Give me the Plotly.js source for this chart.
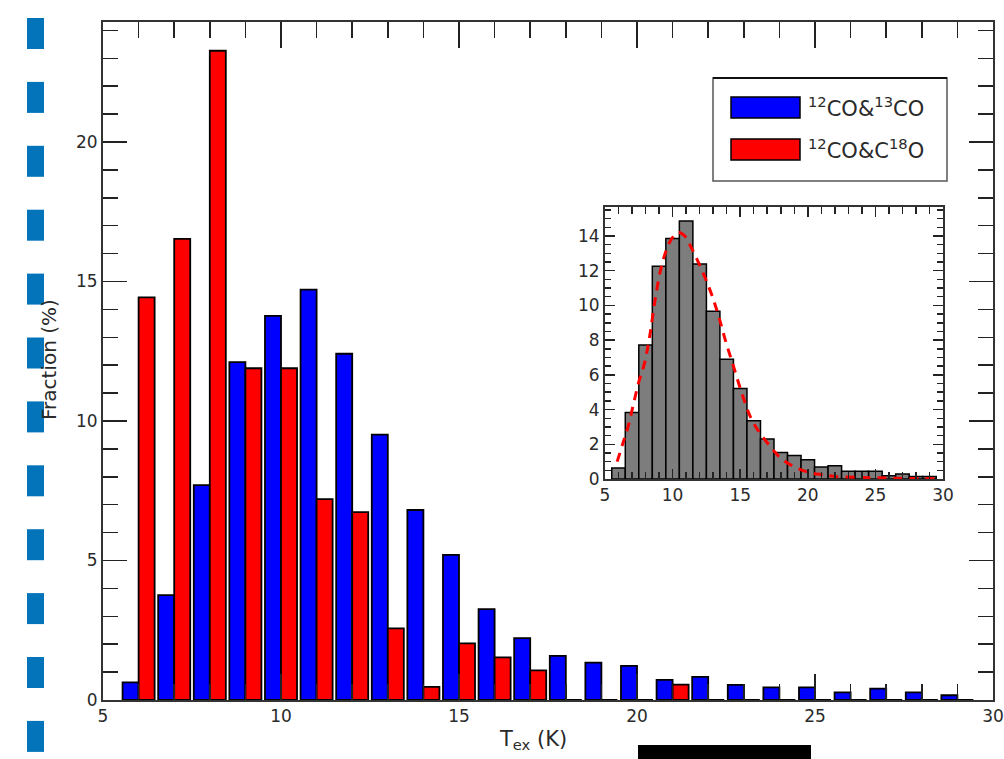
<!DOCTYPE html>
<html>
<head>
<meta charset="utf-8">
<script src="https://cdn.plot.ly/plotly-3.0.1.min.js"></script>
<style>html,body{margin:0;padding:0;background:#fff;}#chart{width:1004px;height:759px;}</style>
</head>
<body>
<div id="chart"></div>
<script>
// Bin centres (K)
const binCenters = [6,7,8,9,10,11,12,13,14,15,16,17,18,19,20,21,22,23,24,25,26,27,28,29];
// 12CO & 13CO fraction (%)
const fracCO13 = [0.63,3.76,7.70,12.11,13.77,14.71,12.41,9.51,6.81,5.20,3.26,2.22,1.58,1.34,1.22,0.72,0.83,0.54,0.45,0.45,0.27,0.41,0.27,0.17];
// 12CO & C18O fraction (%)
const fracC18O = [14.43,16.53,23.27,11.89,11.89,7.20,6.73,2.57,0.47,2.03,1.53,1.06,0,0,0,0.55,0,0,0,0,0,0,0,0];
// Inset histogram (%)
const insetFrac = [0.63,3.83,7.72,12.26,13.85,14.87,12.38,9.67,6.90,5.21,3.35,2.30,1.53,1.36,1.11,0.69,0.77,0.44,0.44,0.44,0.19,0.29,0.15,0.15];
// Inset fitted curve
const fitX = [5.9,6.3,6.7,7.1,7.5,7.9,8.3,8.7,9.1,9.5,9.9,10.4,10.9,11.4,11.9,12.4,12.9,13.4,13.9,14.5,15.1,15.8,16.5,17.2,18.0,19.0,20.0,21.0,22.0,23.5,25.0,27.0,29.5];
const fitY = [1.0,2.0,3.0,4.3,5.6,6.6,8.2,10.3,12.0,13.1,13.8,14.2,14.0,13.3,12.5,11.6,10.6,9.4,8.0,6.5,5.0,3.5,2.6,1.9,1.2,0.7,0.4,0.25,0.15,0.1,0.07,0.04,0.02];
const seriesNames = ['<sup>12</sup>CO&amp;<sup>13</sup>CO', '<sup>12</sup>CO&amp;C<sup>18</sup>O'];
const xTitle = 'T<sub>ex</sub> (K)';
const yTitle = 'Fraction (%)';

const W = 1004, H = 759, L = 103, R = 993, T = 22, B = 700;
const px = x => (x - L) / (R - L);
const py = y => (B - y) / (B - T);

const txt = '#2a2a2a';
const F = 'DejaVu Sans, sans-serif';

const traces = [
  {type:'bar', x: binCenters, y: fracCO13, width: 0.45, offset: -0.45,
   marker:{color:'#0000ff', line:{color:'#000', width:1.8}}, name: seriesNames[0], xaxis:'x', yaxis:'y'},
  {type:'bar', x: binCenters, y: fracC18O, width: 0.45, offset: 0,
   marker:{color:'#ff0000', line:{color:'#000', width:1.8}}, name: seriesNames[1], xaxis:'x', yaxis:'y'},
  {type:'bar', x: binCenters, y: insetFrac, width: 1, offset: -0.5,
   marker:{color:'#7d7d7d', line:{color:'#000', width:1.5}}, xaxis:'x2', yaxis:'y2'},
  {type:'scatter', mode:'lines', x: fitX, y: fitY, line:{color:'#ff0000', width:3, dash:'9px,7px', shape:'spline'},
   xaxis:'x2', yaxis:'y2'}
];

const axBase = {showgrid:false, zeroline:false, showline:true, linecolor:'#333', linewidth:2,
  ticks:'inside', mirror:'allticks', tickcolor:'#222', tickwidth:1.5,
  tickfont:{family:F, size:17, color:txt}};

const shapes = [];
const decoColor = '#0474ba';
for (let i = 0; i < 12; i++) {
  const y0 = 18 + i * 63.9;
  shapes.push({type:'rect', xref:'paper', yref:'paper', x0:px(27), x1:px(44), y0:py(y0), y1:py(y0+31),
    fillcolor:decoColor, line:{width:0}, layer:'above'});
}
shapes.push({type:'rect', xref:'paper', yref:'paper', x0:px(638), x1:px(811), y0:py(745), y1:py(760),
  fillcolor:'#000', line:{width:0}});
// legend box
shapes.push({type:'rect', xref:'paper', yref:'paper', x0:px(713), x1:px(947), y0:py(78), y1:py(181),
  fillcolor:'#fff', line:{color:'#555', width:1.5}});
shapes.push({type:'line', xref:'paper', yref:'paper', x0:px(713), x1:px(947), y0:py(78), y1:py(78),
  line:{color:'#111', width:2}});
shapes.push({type:'rect', xref:'paper', yref:'paper', x0:px(731), x1:px(800), y0:py(97), y1:py(118),
  fillcolor:'#0000ff', line:{color:'#000', width:1.5}});
shapes.push({type:'rect', xref:'paper', yref:'paper', x0:px(731), x1:px(800), y0:py(139), y1:py(160),
  fillcolor:'#ff0000', line:{color:'#000', width:1.5}});

const annotations = [
  {xref:'paper', yref:'paper', x:px(806), y:py(107), xanchor:'left', yanchor:'middle', showarrow:false,
   text: seriesNames[0], font:{family:F, size:21, color:txt}},
  {xref:'paper', yref:'paper', x:px(806), y:py(149), xanchor:'left', yanchor:'middle', showarrow:false,
   text: seriesNames[1], font:{family:F, size:21, color:txt}},
  {xref:'paper', yref:'paper', x:px(49), y:py(360), xanchor:'center', yanchor:'middle', showarrow:false,
   textangle:-90, text: yTitle, font:{family:F, size:20, color:txt}},
  {xref:'paper', yref:'paper', x:px(533), y:py(740), xanchor:'center', yanchor:'middle', showarrow:false,
   text: xTitle, font:{family:F, size:21, color:txt}}
];

const layout = {
  width: W, height: H, margin:{l:L, r:W-R, t:T, b:H-B, pad:0},
  paper_bgcolor:'#fff', plot_bgcolor:'#fff', showlegend:false, barmode:'overlay',
  xaxis: Object.assign({}, axBase, {range:[5,30], tickvals:[5,10,15,20,25,30], ticklen:26,
    minor:{dtick:1, tick0:5, ticks:'inside', ticklen:16, tickcolor:'#222', tickwidth:1.5}}),
  yaxis: Object.assign({}, axBase, {range:[0,24.3], tickvals:[0,5,10,15,20], ticklen:24,
    minor:{dtick:1, tick0:0, ticks:'inside', ticklen:15, tickcolor:'#222', tickwidth:1.5}}),
  xaxis2: Object.assign({}, axBase, {domain:[px(605), px(943)], anchor:'y2', range:[5,30], tickvals:[5,10,15,20,25,30],
    ticklen:10, linewidth:2,
    minor:{dtick:1, tick0:5, ticks:'inside', ticklen:7, tickcolor:'#222', tickwidth:1.5}}),
  yaxis2: Object.assign({}, axBase, {domain:[py(479), py(207)], anchor:'x2', range:[0,15.67], tickvals:[0,2,4,6,8,10,12,14],
    ticklen:10, linewidth:2,
    minor:{dtick:0.5, tick0:0, ticks:'inside', ticklen:6, tickcolor:'#222', tickwidth:1.5}}),
  shapes: shapes,
  annotations: annotations
};

Plotly.newPlot('chart', traces, layout, {displayModeBar:false, staticPlot:true});
</script>
</body>
</html>
